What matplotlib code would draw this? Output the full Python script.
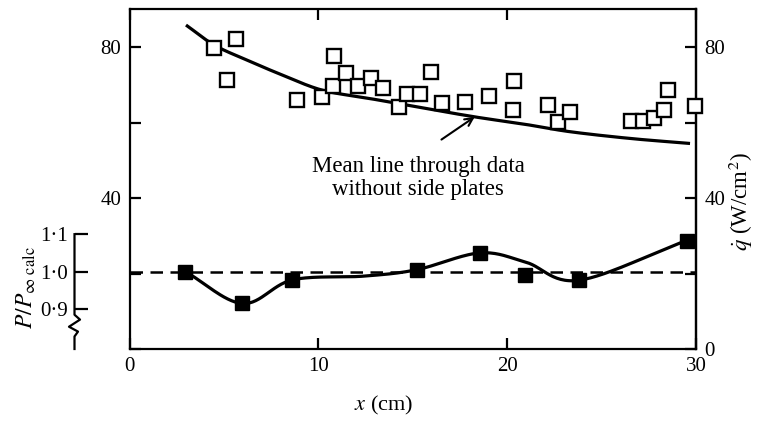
import numpy as np
import matplotlib
matplotlib.use("Agg")
import matplotlib.pyplot as plt
from matplotlib.transforms import blended_transform_factory

plt.rcParams['font.family'] = ['Liberation Serif', 'DejaVu Serif']
plt.rcParams['mathtext.fontset'] = 'stix'

# ---------------- data ----------------
open_x = [4.47, 5.62, 5.14, 8.88, 10.17, 10.82, 10.78, 11.49, 12.11, 12.81,
          13.43, 14.28, 14.67, 15.41, 15.99, 16.57, 17.75, 19.02, 20.34, 20.31,
          22.16, 22.69, 23.31, 26.57, 27.19, 27.80, 28.33, 28.51, 29.97]
open_q = [79.8, 82.1, 71.3, 66.0, 66.7, 77.6, 69.7, 73.2, 69.7, 71.7,
          69.2, 64.2, 67.7, 67.5, 73.5, 65.1, 65.4, 67.1, 71.1, 63.3,
          64.6, 60.2, 62.9, 60.5, 60.5, 61.1, 63.3, 68.6, 64.4]

mean_x = [3.06, 4.5, 6.2, 8.0, 10.2, 12.7, 15.4, 18.3, 21.0, 23.3, 26.5, 29.6]
mean_q = [85.6, 80.5, 76.6, 72.8, 68.6, 66.4, 64.0, 61.5, 59.5, 57.6, 55.8, 54.5]

filled_x = [2.96, 5.98, 8.63, 15.2, 18.56, 20.95, 23.8, 29.5]
filled_p = [1.000, 0.915, 0.978, 1.005, 1.050, 0.990, 0.977, 1.083]

curve_x = [2.96, 5.98, 8.63, 12.4, 15.2, 18.56, 21.0, 23.8, 29.5]
curve_p = [1.000, 0.915, 0.978, 0.988, 1.005, 1.050, 1.025, 0.977, 1.083]

ref_p = 1.0

x_ticks = [0, 10, 20, 30]
x_labels = ['0', '10', '20', '30']
q_ticks = [0, 20, 40, 60, 80]
q_labels_left = ['', '', '40', '', '80']
q_labels_right = ['0', '', '40', '', '80']
p_ticks = [0.9, 1.0, 1.1]
p_labels = ['0\u00b79', '1\u00b70', '1\u00b71']

annot_text = 'Mean line through data\nwithout side plates'

# ---------------- helpers ----------------
def smooth(xs, ys, n=30):
    pts = np.column_stack([xs, ys]).astype(float)
    p = np.vstack([2 * pts[0] - pts[1], pts, 2 * pts[-1] - pts[-2]])
    out = []
    t = np.linspace(0, 1, n, endpoint=False)[:, None]
    for i in range(1, len(p) - 2):
        p0, p1, p2, p3 = p[i - 1], p[i], p[i + 1], p[i + 2]
        seg = 0.5 * ((2 * p1) + (-p0 + p2) * t + (2 * p0 - 5 * p1 + 4 * p2 - p3) * t ** 2
                     + (-p0 + 3 * p1 - 3 * p2 + p3) * t ** 3)
        out.append(seg)
    out.append(pts[-1:])
    s = np.vstack(out)
    return s[:, 0], s[:, 1]

# P <-> q mapping of the inset scale
Q_AT_P1 = 20.5
Q_PER_P = 99.3
QMAX = 90.1

W, H = 765, 422
fig = plt.figure(figsize=(W / 100, H / 100), dpi=100)
L, R, B, T = 129.5, 696.0, 349.0, 9.0
ax = fig.add_axes([L / W, 1 - B / H, (R - L) / W, (B - T) / H])

ax.set_xlim(0, 30)
ax.set_ylim(0, QMAX)

lw_sp = 1.6
for s in ax.spines.values():
    s.set_linewidth(lw_sp)

ax.set_xticks(x_ticks)
ax.set_xticklabels(x_labels)
ax.set_yticks(q_ticks)
ax.set_yticklabels(q_labels_left)
ax.tick_params(axis='both', direction='in', length=8, width=1.6, labelsize=15,
               top=True, right=True, pad=6)

sec = ax.secondary_yaxis('right')
sec.set_yticks(q_ticks)
sec.set_yticklabels(q_labels_right)
sec.tick_params(direction='in', length=8, width=1.6, labelsize=15, pad=6)
sec.spines['right'].set_linewidth(lw_sp)

# mean line + open squares
mx, mq = smooth(mean_x, mean_q)
ax.plot(mx, mq, color='black', lw=2.3, zorder=2)
ax.plot(open_x, open_q, linestyle='none', marker='s', markersize=9.5,
        markerfacecolor='white', markeredgecolor='black', markeredgewidth=1.7,
        zorder=3, clip_on=False)

# annotation
ax.annotate('', xy=(18.28, 61.5), xytext=(16.52, 55.5),
            arrowprops=dict(arrowstyle='->', lw=1.5, color='black',
                            mutation_scale=14, shrinkA=0, shrinkB=0))
ax.text(15.3, 45.3, annot_text, ha='center', va='center', fontsize=16.5,
        linespacing=1.15)

# ---------------- P / P_inf axis ----------------
axp = ax.twinx()
p_lo = 1 + (0 - Q_AT_P1) / Q_PER_P
p_hi = 1 + (QMAX - Q_AT_P1) / Q_PER_P
axp.set_ylim(p_lo, p_hi)
for s in axp.spines.values():
    s.set_visible(False)
axp.yaxis.set_ticks_position('left')
axp.spines['left'].set_position(('outward', (L - 74.5) * 0.72))
axp.set_yticks(p_ticks)
axp.set_yticklabels(p_labels)
axp.tick_params(axis='y', direction='in', length=9, width=1.6, labelsize=15, pad=5,
                right=False, labelright=False)

# spine of inset scale with a zigzag break
sx = -(L - 74.5) / (R - L)
px = 1.0 / (R - L)
tr = blended_transform_factory(axp.transAxes, axp.transData)
zig_x = [sx, sx, sx + 5.5 * px, sx - 5.5 * px, sx + 3.5 * px, sx, sx]
zig_y = [1.1, 0.885, 0.872, 0.853, 0.840, 0.827, p_lo]
axp.plot(zig_x, zig_y, color='black', lw=1.6, transform=tr, clip_on=False)

# reference dashed line, curve and filled squares
axp.plot([0, 30], [ref_p, ref_p], color='black', lw=1.8, linestyle=(0, (5, 3)),
         zorder=2)
cx, cp = smooth(curve_x, curve_p)
axp.plot(cx, cp, color='black', lw=2.3, zorder=2)
axp.plot(filled_x, filled_p, linestyle='none', marker='s', markersize=9.5,
         color='black', zorder=3)

# ---------------- labels ----------------
fig.text(384 / W, 1 - 405 / H, '$x$ (cm)', ha='center', va='center', fontsize=16)
fig.text(741 / W, 1 - 202 / H, r'$\dot{q}$ (W/cm$^2$)', ha='center', va='center',
         fontsize=16.5, rotation=90)
fig.text(26 / W, 1 - 288 / H, r'$P/P_{\infty\ \mathrm{calc}}$', ha='center',
         va='center', fontsize=17, rotation=90)

fig.savefig('out.png', dpi=100)
